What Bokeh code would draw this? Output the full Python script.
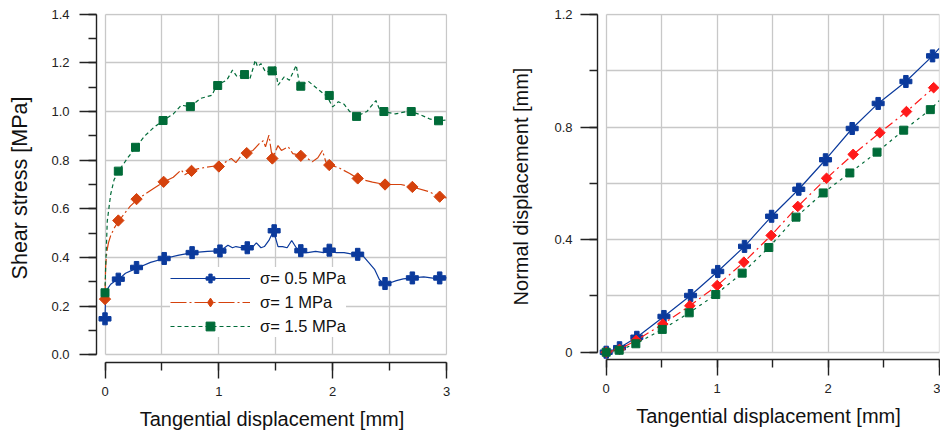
import math
from bokeh.plotting import figure
from bokeh.layouts import row
from bokeh.models import (Range1d, LinearAxis, SingleIntervalTicker, Grid, Legend,
                          LegendItem, PrintfTickFormatter, BoxAnnotation)
from bokeh.embed import file_html
from bokeh.resources import INLINE

# ---------------- data: left panel (shear stress [MPa] vs tangential displacement [mm]) ----------------
s05_x = [0, 0.005, 0.02, 0.05, 0.08, 0.12, 0.18, 0.25, 0.3, 0.4, 0.52, 0.65, 0.77, 0.9, 1.0, 1.05, 1.08,
         1.12, 1.15, 1.2, 1.25, 1.3, 1.33, 1.37, 1.4, 1.44, 1.48, 1.52, 1.56, 1.6, 1.64, 1.68, 1.73, 1.78,
         1.85, 1.92, 1.97, 2.03, 2.1, 2.16, 2.22, 2.27, 2.31, 2.37, 2.41, 2.45, 2.5, 2.56, 2.62, 2.7, 2.8,
         2.88, 2.94, 3.0]
s05_y = [0.15, 0.24, 0.27, 0.29, 0.30, 0.31, 0.335, 0.35, 0.36, 0.38, 0.396, 0.41, 0.42, 0.425, 0.427,
         0.44, 0.45, 0.44, 0.445, 0.44, 0.44, 0.445, 0.46, 0.44, 0.445, 0.47, 0.51, 0.445, 0.445, 0.44,
         0.47, 0.44, 0.425, 0.42, 0.425, 0.42, 0.43, 0.42, 0.42, 0.415, 0.413, 0.405, 0.383, 0.35, 0.31,
         0.29, 0.295, 0.305, 0.312, 0.316, 0.32, 0.315, 0.316, 0.316]
s05_mx = [0, 0.117, 0.277, 0.52, 0.765, 1.01, 1.25, 1.486, 1.72, 1.97, 2.22, 2.46, 2.70, 2.94]
s05_my = [0.148, 0.311, 0.359, 0.396, 0.42, 0.427, 0.44, 0.51, 0.428, 0.43, 0.413, 0.293, 0.316, 0.316]

s10_x = [0, 0.005, 0.015, 0.03, 0.05, 0.08, 0.12, 0.17, 0.22, 0.28, 0.35, 0.43, 0.52, 0.6, 0.67, 0.7,
         0.76, 0.82, 0.88, 0.95, 1.0, 1.05, 1.11, 1.15, 1.2, 1.24, 1.3, 1.355, 1.39, 1.41, 1.44, 1.47,
         1.52, 1.55, 1.61, 1.65, 1.72, 1.78, 1.82, 1.87, 1.91, 1.94, 1.97, 2.05, 2.15, 2.22, 2.35, 2.46,
         2.6, 2.7, 2.85, 2.93, 3.0]
s10_y = [0.23, 0.36, 0.42, 0.46, 0.49, 0.52, 0.55, 0.58, 0.61, 0.637, 0.66, 0.685, 0.711, 0.73, 0.76,
         0.74, 0.756, 0.765, 0.77, 0.775, 0.775, 0.79, 0.807, 0.79, 0.82, 0.83, 0.84, 0.868, 0.88, 0.855,
         0.903, 0.807, 0.86, 0.84, 0.855, 0.827, 0.82, 0.807, 0.793, 0.81, 0.84, 0.793, 0.78, 0.77,
         0.745, 0.725, 0.71, 0.70, 0.70, 0.69, 0.67, 0.65, 0.645]
s10_mx = [0, 0.117, 0.277, 0.515, 0.76, 1.0, 1.245, 1.47, 1.72, 1.97, 2.22, 2.46, 2.70, 2.94]
s10_my = [0.229, 0.552, 0.64, 0.711, 0.756, 0.774, 0.829, 0.807, 0.818, 0.78, 0.725, 0.70, 0.69, 0.65]

s15_x = [0, 0.005, 0.02, 0.05, 0.08, 0.12, 0.2, 0.27, 0.35, 0.43, 0.51, 0.6, 0.67, 0.75, 0.84, 0.94,
         0.98, 1.07, 1.12, 1.16, 1.22, 1.27, 1.30, 1.32, 1.34, 1.37, 1.41, 1.46, 1.495, 1.52, 1.575, 1.62,
         1.68, 1.71, 1.79, 1.85, 1.88, 1.95, 2.0, 2.05, 2.1, 2.15, 2.21, 2.3, 2.38, 2.42, 2.45, 2.55,
         2.65, 2.69, 2.78, 2.85, 2.93, 3.0]
s15_y = [0.255, 0.35, 0.55, 0.66, 0.72, 0.755, 0.81, 0.853, 0.9, 0.935, 0.963, 0.99, 1.026, 1.02, 1.054,
         1.067, 1.108, 1.129, 1.17, 1.143, 1.153, 1.13, 1.177, 1.211, 1.184, 1.197, 1.163, 1.167, 1.184,
         1.108, 1.143, 1.129, 1.19, 1.108, 1.123, 1.10, 1.088, 1.063, 1.019, 1.04, 1.03, 1.0, 0.98, 1.0,
         1.045, 1.0, 1.0, 0.99, 1.0, 1.0, 0.985, 0.97, 0.962, 0.965]
s15_mx = [0, 0.117, 0.268, 0.51, 0.75, 0.99, 1.226, 1.468, 1.72, 1.97, 2.21, 2.45, 2.69, 2.93]
s15_my = [0.255, 0.755, 0.853, 0.963, 1.02, 1.107, 1.152, 1.167, 1.104, 1.066, 0.98, 1.0, 1.0, 0.962]

labels = ["σ= 0.5 MPa", "σ= 1 MPa", "σ= 1.5 MPa"]

# ---------------- data: right panel (normal displacement [mm] vs tangential displacement [mm]) ----------------
n05_x = [0, 0.12, 0.276, 0.52, 0.76, 1.005, 1.246, 1.49, 1.735, 1.976, 2.216, 2.45, 2.70, 2.94, 3.0]
n05_y = [0, 0.016, 0.053, 0.127, 0.2015, 0.287, 0.376, 0.483, 0.579, 0.684, 0.795, 0.884, 0.962, 1.053, 1.08]
n10_x = [0, 0.12, 0.27, 0.51, 0.753, 1.0, 1.24, 1.486, 1.726, 1.985, 2.225, 2.465, 2.705, 2.95, 3.0]
n10_y = [0, 0.01, 0.042, 0.10, 0.165, 0.237, 0.32, 0.415, 0.518, 0.618, 0.703, 0.78, 0.855, 0.94, 0.955]
n15_x = [0, 0.117, 0.267, 0.505, 0.748, 0.987, 1.225, 1.465, 1.71, 1.955, 2.195, 2.44, 2.68, 2.92, 3.0]
n15_y = [0, 0.007, 0.03, 0.081, 0.14, 0.205, 0.281, 0.372, 0.48, 0.566, 0.637, 0.711, 0.789, 0.862, 0.894]

# ---------------- styles ----------------
BLUE = "#0b3a9c"
ORANGE = "#d5420d"
RED = "#ff1a1a"
GREEN = "#006b38"
GRID = "#c8c8c8"
AXIS = "#222222"
FONT = "Liberation Sans"


def add_grid(p, dim, interval, bounds, cross):
    g = Grid(dimension=dim, ticker=SingleIntervalTicker(interval=interval), bounds=bounds,
             grid_line_color=GRID, grid_line_width=1.3)
    ok = True
    try:
        g.cross_bounds = cross
    except Exception:
        ok = False
    p.add_layout(g)
    return ok


def style_axis(ax, label_standoff):
    ax.major_label_text_font = FONT
    ax.major_label_text_font_size = "13px"
    ax.major_label_text_color = "#222222"
    ax.major_label_standoff = label_standoff
    ax.axis_line_color = AXIS
    ax.axis_line_width = 1.4
    ax.major_tick_line_color = AXIS
    ax.major_tick_line_width = 1.4
    ax.minor_tick_line_color = AXIS
    ax.minor_tick_line_width = 1.4
    ax.major_tick_in = 0
    ax.minor_tick_in = 0


def set_title(ax, text, size, standoff):
    ax.axis_label = text
    ax.axis_label_text_font = FONT
    ax.axis_label_text_font_size = size
    ax.axis_label_text_font_style = "normal"
    ax.axis_label_text_color = "#111111"
    ax.axis_label_standoff = standoff


def make_fig(xr, yr, fw, fh, left, right, top, bottom):
    p = figure(x_range=Range1d(*xr), y_range=Range1d(*yr), frame_width=fw, frame_height=fh,
               min_border_left=left, min_border_right=right, min_border_top=top,
               min_border_bottom=bottom, x_axis_location=None, y_axis_location=None,
               toolbar_location=None, output_backend="svg", outline_line_color=None,
               background_fill_color="white", border_fill_color="white")
    for g in p.xgrid + p.ygrid:
        g.visible = False
    return p


# ======================= left figure =======================
p1 = make_fig((-0.0747, 3.0088), (-0.0316, 1.4029), 351, 349, 96, 20, 10, 77)
ok1 = add_grid(p1, 0, 0.5, (-0.01, 3.01), (0, 1.4))
ok2 = add_grid(p1, 1, 0.2, (-0.01, 1.41), (0, 3))
if not (ok1 and ok2):
    p1.add_layout(BoxAnnotation(right=0, fill_color="white", fill_alpha=1, line_color=None, level="underlay"))
    p1.add_layout(BoxAnnotation(top=0, fill_color="white", fill_alpha=1, line_color=None, level="underlay"))

y1 = LinearAxis(ticker=SingleIntervalTicker(interval=0.2, num_minor_ticks=2), bounds=(0, 1.4001),
                formatter=PrintfTickFormatter(format="%.1f"))
style_axis(y1, 10)
set_title(y1, "Shear stress [MPa]", "21.5px", 16)
y1.major_tick_out = 17
y1.minor_tick_out = 8
p1.add_layout(y1, "left")

x1 = LinearAxis(ticker=SingleIntervalTicker(interval=1, num_minor_ticks=2), bounds=(0, 3))
style_axis(x1, 8)
set_title(x1, "Tangential displacement [mm]", "20px", 9)
x1.major_tick_out = 16
x1.minor_tick_out = 8
p1.add_layout(x1, "below")

lb = p1.line(s05_x, s05_y, line_color=BLUE, line_width=1.2)
mb = p1.scatter(s05_mx, s05_my, marker="plus", size=12, color=BLUE)
lo = p1.line(s10_x, s10_y, line_color=ORANGE, line_width=1.2, line_dash="16 3 2 3")
# diamond glyph used for the legend entry; its single point sits hidden under the first marker
mo_leg = p1.scatter(s10_mx[:1], s10_my[:1], marker="diamond", size=7, color=ORANGE)
mo = p1.scatter(s10_mx, s10_my, marker="square", angle=math.pi / 4, size=8, color=ORANGE)
lg = p1.line(s15_x, s15_y, line_color=GREEN, line_width=1.2, line_dash="4 3")
mg = p1.scatter(s15_mx, s15_my, marker="square", size=8, color=GREEN)

legend = Legend(items=[LegendItem(label=labels[0], renderers=[lb, mb]),
                       LegendItem(label=labels[1], renderers=[lo, mo_leg]),
                       LegendItem(label=labels[2], renderers=[lg, mg])],
                location=(74, 25), glyph_width=80, glyph_height=22, label_height=22,
                spacing=2, padding=5, margin=0, label_standoff=10,
                border_line_color=None, background_fill_color="white", background_fill_alpha=1,
                label_text_font=FONT, label_text_font_size="16.5px", label_text_color="#111111")
p1.add_layout(legend)

# ======================= right figure =======================
p2 = make_fig((-0.0784, 3.0027), (-0.0259, 1.2036), 342, 346, 130, 1, 13, 77)
ok3 = add_grid(p2, 0, 0.5, (-0.01, 3.01), (0, 1.2))
ok4 = add_grid(p2, 1, 0.2, (-0.01, 1.21), (0, 3))
if not (ok3 and ok4):
    p2.add_layout(BoxAnnotation(right=0, fill_color="white", fill_alpha=1, line_color=None, level="underlay"))
    p2.add_layout(BoxAnnotation(top=0, fill_color="white", fill_alpha=1, line_color=None, level="underlay"))

y2 = LinearAxis(ticker=SingleIntervalTicker(interval=0.4, num_minor_ticks=2), bounds=(0, 1.2001),
                formatter=PrintfTickFormatter(format="%.1f"), major_label_overrides={0: "0"})
style_axis(y2, 8)
set_title(y2, "Normal displacement [mm]", "20px", 19)
y2.major_tick_out = 17
y2.minor_tick_out = 8
p2.add_layout(y2, "left")

x2 = LinearAxis(ticker=SingleIntervalTicker(interval=1, num_minor_ticks=2), bounds=(0, 3))
style_axis(x2, 8)
set_title(x2, "Tangential displacement [mm]", "20px", 9)
x2.major_tick_out = 16
x2.minor_tick_out = 8
p2.add_layout(x2, "below")

p2.line(n05_x, n05_y, line_color=BLUE, line_width=1.2)
p2.scatter(n05_x[:-1], n05_y[:-1], marker="plus", size=12, color=BLUE)
p2.line(n10_x, n10_y, line_color=RED, line_width=1.2, line_dash="9 4 2 4")
p2.scatter(n10_x[:-1], n10_y[:-1], marker="square", angle=math.pi / 4, size=7.5, color=RED)
p2.line(n15_x, n15_y, line_color=GREEN, line_width=1.2, line_dash="3 4")
p2.scatter(n15_x[:-1], n15_y[:-1], marker="square", size=8, color=GREEN)

layout = row(p1, p2)
open("out.html", "w").write(file_html(layout, INLINE))
